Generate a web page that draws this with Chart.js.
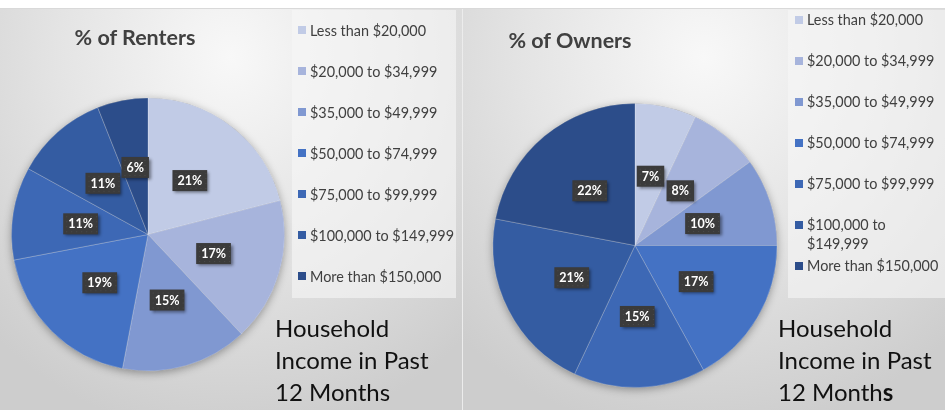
<!DOCTYPE html>
<html>
<head>
<meta charset="utf-8">
<script src="https://cdn.jsdelivr.net/npm/chart.js@4.4.1/dist/chart.umd.min.js"></script>
<style>
  body { margin:0; width:945px; height:410px; background:#fff; overflow:hidden; position:relative;
         font-family: Lato, "Noto Sans", sans-serif; }
  .top-line { position:absolute; left:0; top:8px; width:945px; height:1px; background:#d9d9d9; }
  .panel { position:absolute; top:9px; height:401px; overflow:hidden;
           background: radial-gradient(ellipse 75% 95% at 50% 12%, #f8f8f8 0%, #e4e4e4 50%, #cdcdcd 100%); }
  #panelRenters { left:0; width:462px; }
  #panelOwners { left:462px; width:482px; border-left:1px solid #ececec; }
  .panel canvas { position:absolute; left:0; top:0; }
  .title { position:absolute; transform:translate(-50%,-50%); white-space:nowrap;
           font-weight:bold; font-size:21.5px; color:#404040; }
  .legend { position:absolute; top:1px; height:288px; box-sizing:border-box; background:rgba(246,246,246,0.6); }
  .legend-item { display:flex; align-items:flex-start; font-size:14.4px; line-height:19px; color:#404040; margin-bottom:22px; }
  .legend-box { flex:none; width:8px; height:8px; margin:5.5px 4px 0 0; }
  #rentersLegend .legend-item { white-space:nowrap; }
  .caption { position:absolute; top:303px; font-size:24px; line-height:32px; color:#111; }
</style>
</head>
<body>
<div class="top-line"></div>

<div class="panel" id="panelRenters">
  <canvas id="rentersChart" width="462" height="401"></canvas>
  <div class="title" style="left:135px; top:28px;">% of Renters</div>
  <div class="legend" id="rentersLegend" style="left:292px; width:164px; padding:10.5px 0 0 6px;"></div>
  <div class="caption" style="left:275px;">Household<br>Income in Past<br>12 Months</div>
</div>

<div class="panel" id="panelOwners">
  <canvas id="ownersChart" width="482" height="401"></canvas>
  <div class="title" style="left:107px; top:31px;">% of Owners</div>
  <div class="legend" id="ownersLegend" style="left:325px; width:157px; padding:0 0 0 7px;"></div>
  <div class="caption" style="left:315px;">Household<br>Income in Past<br>12 Month<b>s</b></div>
</div>

<script>
// catégories de revenu
const incomeLabels = [
    'Less than $20,000',
    '$20,000 to $34,999',
    '$35,000 to $49,999',
    '$50,000 to $74,999',
    '$75,000 to $99,999',
    '$100,000 to $149,999',
    'More than $150,000'
];

// pourcentages
const rentersPct = [21, 17, 15, 19, 11, 11, 6];
const ownersPct = [7, 8, 10, 17, 15, 21, 22];

// couleurs des parts (du plus clair au plus foncé)
const sliceColors = ['#c1cbe6', '#a7b4dc', '#8098d1', '#4472c4', '#3d68b5', '#345ca2', '#2c4d8a'];


// ombre douce sous le camembert
const pieShadow = {
    id: 'pieShadow',
    beforeDatasetsDraw(chart) {
        const arc = chart.getDatasetMeta(0).data[0];
        if (!arc) return;
        const ctx = chart.ctx;
        ctx.save();
        ctx.shadowColor = 'rgba(0,0,0,0.35)';
        ctx.shadowBlur = 9;
        ctx.shadowOffsetY = 2;
        ctx.fillStyle = '#808080';
        ctx.beginPath();
        ctx.arc(arc.x, arc.y, arc.outerRadius, 0, Math.PI * 2);
        ctx.fill();
        ctx.restore();
    }
};

// étiquettes foncées avec le pourcentage
const pctLabels = {
    id: 'pctLabels',
    afterDatasetsDraw(chart) {
        const ctx = chart.ctx;
        const values = chart.data.datasets[0].data;
        chart.getDatasetMeta(0).data.forEach((arc, i) => {
            const pos = arc.tooltipPosition();
            const text = values[i] + '%';
            ctx.save();
            ctx.font = 'bold 12.5px Lato, "Noto Sans", sans-serif';
            const w = ctx.measureText(text).width + 10;
            const h = 21;
            ctx.shadowColor = 'rgba(0,0,0,0.45)';
            ctx.shadowBlur = 3;
            ctx.shadowOffsetX = 2;
            ctx.shadowOffsetY = 2;
            ctx.fillStyle = '#3b3b3b';
            ctx.fillRect(pos.x - w / 2, pos.y - h / 2, w, h);
            ctx.shadowColor = 'transparent';
            // petits points de texture
            ctx.fillStyle = 'rgba(255,255,255,0.09)';
            for (let dx = 3; dx < w; dx += 5) {
                for (let dy = 3; dy < h; dy += 5) {
                    ctx.fillRect(pos.x - w / 2 + dx, pos.y - h / 2 + dy, 1, 1);
                }
            }
            ctx.fillStyle = '#ffffff';
            ctx.textAlign = 'center';
            ctx.textBaseline = 'middle';
            ctx.fillText(text, pos.x, pos.y + 0.5);
            ctx.restore();
        });
    }
};


function makePie(canvasId, values, padding) {
    let ctx = document.getElementById(canvasId).getContext('2d');
    return new Chart(ctx, {
        type: 'pie',
        data: {
            labels: incomeLabels,
            datasets: [{
                data: values,
                backgroundColor: sliceColors,
                borderColor: 'rgba(255,255,255,0.22)',
                borderWidth: 1
            }]
        },
        options: {
            responsive: false,
            animation: false,
            layout: { padding: padding },
            plugins: {
                legend: { display: false },
                tooltip: { enabled: false }
            }
        },
        plugins: [pieShadow, pctLabels]
    });
}


function setLegend(containerId) {
    let container = document.getElementById(containerId);
    for (let i = 0; i < incomeLabels.length; i++) {
        let item = document.createElement('div');
        item.className = 'legend-item';
        let box = document.createElement('span');
        box.className = 'legend-box';
        box.style.background = sliceColors[i];
        let label = document.createElement('span');
        label.textContent = incomeLabels[i];
        item.appendChild(box);
        item.appendChild(label);
        container.appendChild(item);
        // une entrée sur deux lignes est serrée contre la suivante (comme dans Excel)
        if (label.offsetHeight > 25) {
            item.style.marginBottom = '3px';
        }
    }
}


makePie('rentersChart', rentersPct, { left: 11, right: 177, top: 88, bottom: 38 });
makePie('ownersChart', ownersPct, { left: 29, right: 167, top: 94, bottom: 22 });
setLegend('rentersLegend');
setLegend('ownersLegend');
</script>
</body>
</html>
